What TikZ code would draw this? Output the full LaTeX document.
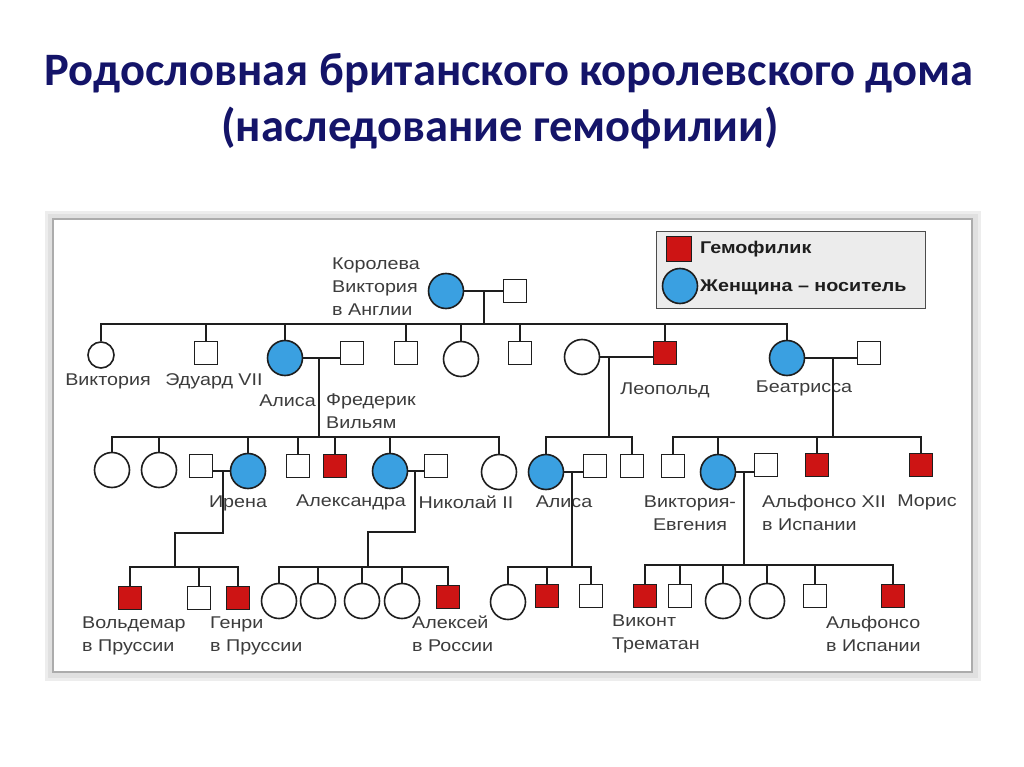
\documentclass[tikz,border=0pt]{standalone}
\usepackage{fontspec}
\setmainfont{Liberation Sans}
\newfontfamily\ttlfont{Carlito}
\newfontfamily\labfont[FakeStretch=1.16]{Liberation Sans}
\definecolor{navy}{RGB}{20,20,105}
\definecolor{carrier}{RGB}{58,160,225}
\definecolor{hemo}{RGB}{205,20,20}
\definecolor{ink}{RGB}{30,30,30}
\definecolor{labc}{RGB}{60,60,60}
\begin{document}
\begin{tikzpicture}[x=1pt,y=-1pt,
  person/.style={draw=ink,line width=1.6pt,inner sep=0pt,fill=white},
  fem/.style={person,circle,minimum size=35pt},
  femsm/.style={person,circle,minimum size=26pt},
  car/.style={fem,fill=carrier},
  mal/.style={person,rectangle,minimum size=23pt},
  hem/.style={mal,fill=hemo},
  conn/.style={draw=ink,line width=1.6pt},
  lab/.style={text=labc,font=\labfont\fontsize{17}{23}\selectfont,inner sep=0pt},
  leg/.style={text=ink,font=\labfont\bfseries\fontsize{17}{23}\selectfont,inner sep=0pt,anchor=west},
  ttl/.style={text=navy,font=\ttlfont\bfseries\fontsize{46.5}{56}\selectfont,inner sep=0pt}
]
\useasboundingbox (0,0) rectangle (1024,767);
\fill[white] (0,0) rectangle (1024,767);
% title
\node[ttl] (t1) at (509,73) {Родословная британского королевского дома};
\node[ttl] (t2) at (500,128) {(наследование гемофилии)};
% frame
\fill[gray!14] (45,211) rectangle (981,681);
\fill[gray!24] (48,214) rectangle (978,678);
\draw[gray!65,line width=2pt,fill=white] (53,219) rectangle (972,672);
% legend
\draw[gray!60!black,line width=1pt,fill=gray!15] (656,232) rectangle (925,308);
\node[hem,minimum size=25pt] (lg1) at (679,249) {};
\node[car] (lg2) at (680,286) {};
\node[leg] (lt1) at (700,249) {Гемофилик};
\node[leg] (lt2) at (700,287) {Женщина – носитель};
% generation I
\node[car] (qv) at (446,291) {};
\node[mal] (qh) at (515,291) {};
\draw[conn] (qv) -- (qh);
\coordinate (m1) at (484,291);
\coordinate (l1) at (484,324);
\draw[conn] (m1) -- (l1);
\node[lab,anchor=west,align=left] (qvl) at (332,287) {Королева\\Виктория\\в Англии};
% generation II
\node[femsm] (vic2) at (101,355) {};
\node[mal] (edw) at (206,353) {};
\node[car] (ali) at (285,358) {};
\node[mal] (fred) at (352,353) {};
\node[mal] (s5) at (406,353) {};
\node[fem] (f6) at (461,359) {};
\node[mal] (s7) at (520,353) {};
\node[fem] (leow) at (582,357) {};
\node[hem] (leo) at (665,353) {};
\node[car] (bea) at (787,358) {};
\node[mal] (beah) at (869,353) {};
\draw[conn] (vic2.north) |- (l1) -| (bea.north);
\foreach \n in {edw,ali,s5,f6,s7,leo} \draw[conn] (\n.north) -- (\n.north |- l1);
\node[lab] (vic2l) at (108,381) {Виктория};
\node[lab] (edwl) at (214,381) {Эдуард VII};
\node[lab,anchor=east] (alil) at (316,401) {Алиса};
\node[lab,anchor=west,align=left] (fredl) at (326,411) {Фредерик\\Вильям};
\node[lab] (leol) at (665,390) {Леопольд};
\node[lab] (beal) at (804,388) {Беатрисса};
% marriages generation II
\draw[conn] (ali) -- (ali -| fred.west);
\coordinate (m2) at (319,358);
\coordinate (l2) at (319,437);
\draw[conn] (m2) -- (l2);
\draw[conn] (leow) -- (leow -| leo.west);
\coordinate (m3) at (609,357);
\coordinate (l3) at (609,437);
\draw[conn] (m3) -- (l3);
\draw[conn] (bea) -- (bea -| beah.west);
\coordinate (m4) at (833,358);
\coordinate (l4) at (833,437);
\draw[conn] (m4) -- (l4);
% generation III
\node[fem] (k1) at (112,470) {};
\node[fem] (k2) at (159,470) {};
\node[mal] (irh) at (201,466) {};
\node[car] (iren) at (248,471) {};
\node[mal] (k5) at (298,466) {};
\node[hem] (k6) at (335,466) {};
\node[car] (alex) at (390,471) {};
\node[mal] (nik) at (436,466) {};
\node[fem] (k9) at (499,472) {};
\draw[conn] (k1.north) |- (l2) -| (k9.north);
\foreach \n in {k2,iren,k5,k6,alex} \draw[conn] (\n.north) -- (\n.north |- l2);
\node[car] (alis2) at (546,472) {};
\node[mal] (alis2h) at (595,466) {};
\node[mal] (lk3) at (632,466) {};
\draw[conn] (alis2.north) |- (l3) -| (lk3.north);
\node[mal] (bk1) at (673,466) {};
\node[car] (ve) at (718,472) {};
\node[mal] (veh) at (766,465) {};
\node[hem] (bk4) at (817,465) {};
\node[hem] (mor) at (921,465) {};
\draw[conn] (bk1.north) |- (l4) -| (mor.north);
\foreach \n in {ve,bk4} \draw[conn] (\n.north) -- (\n.north |- l4);
\node[lab] (irenl) at (238,503) {Ирена};
\node[lab] (alexl) at (351,502) {Александра};
\node[lab] (nikl) at (466,502) {Николай II};
\node[lab] (alis2l) at (564,502) {Алиса};
\node[lab,align=center] (vel) at (690,513) {Виктория-\\Евгения};
\node[lab,anchor=west,align=left] (vehl) at (762,513) {Альфонсо XII\\в Испании};
\node[lab] (morl) at (927,502) {Морис};
% marriages generation III
\draw[conn] (iren) -- (iren -| irh.east);
\coordinate (m5) at (223,471);
\coordinate (c5) at (175,533);
\coordinate (l5) at (175,567);
\draw[conn] (m5) |- (c5) -- (l5);
\draw[conn] (alex) -- (alex -| nik.west);
\coordinate (m6) at (415,471);
\coordinate (c6) at (368,532);
\coordinate (l6) at (368,567);
\draw[conn] (m6) |- (c6) -- (l6);
\draw[conn] (alis2) -- (alis2 -| alis2h.west);
\coordinate (m7) at (572,472);
\coordinate (l7) at (572,567);
\draw[conn] (m7) -- (l7);
\draw[conn] (ve) -- (ve -| veh.west);
\coordinate (m8) at (744,472);
\coordinate (l8) at (744,565);
\draw[conn] (m8) -- (l8);
% generation IV
\node[hem] (wol) at (130,598) {};
\node[mal] (i2) at (199,598) {};
\node[hem] (hen) at (238,598) {};
\draw[conn] (wol.north) |- (l5) -| (hen.north);
\draw[conn] (i2.north) -- (i2.north |- l5);
\node[fem] (a1) at (279,601) {};
\node[fem] (a2) at (318,601) {};
\node[fem] (a3) at (362,601) {};
\node[fem] (a4) at (402,601) {};
\node[hem] (alx) at (448,597) {};
\draw[conn] (a1.north) |- (l6) -| (alx.north);
\foreach \n in {a2,a3,a4} \draw[conn] (\n.north) -- (\n.north |- l6);
\node[fem] (b1) at (508,602) {};
\node[hem] (b2) at (547,596) {};
\node[mal] (b3) at (591,596) {};
\draw[conn] (b1.north) |- (l7) -| (b3.north);
\draw[conn] (b2.north) -- (b2.north |- l7);
\node[hem] (v1) at (645,596) {};
\node[mal] (v2) at (680,596) {};
\node[fem] (v3) at (723,601) {};
\node[fem] (v4) at (767,601) {};
\node[mal] (v5) at (815,596) {};
\node[hem] (v6) at (893,596) {};
\draw[conn] (v1.north) |- (l8) -| (v6.north);
\foreach \n in {v2,v3,v4,v5} \draw[conn] (\n.north) -- (\n.north |- l8);
\node[lab,anchor=west,align=left] (woll) at (82,636) {Вольдемар\\в Пруссии};
\node[lab,anchor=west,align=left] (henl) at (210,636) {Генри\\в Пруссии};
\node[lab,anchor=west,align=left] (alxl) at (412,634) {Алексей\\в России};
\node[lab,anchor=west,align=left] (v1l) at (612,634) {Виконт\\Трематан};
\node[lab,anchor=west,align=left] (v6l) at (826,634) {Альфонсо\\в Испании};
\end{tikzpicture}
\end{document}
